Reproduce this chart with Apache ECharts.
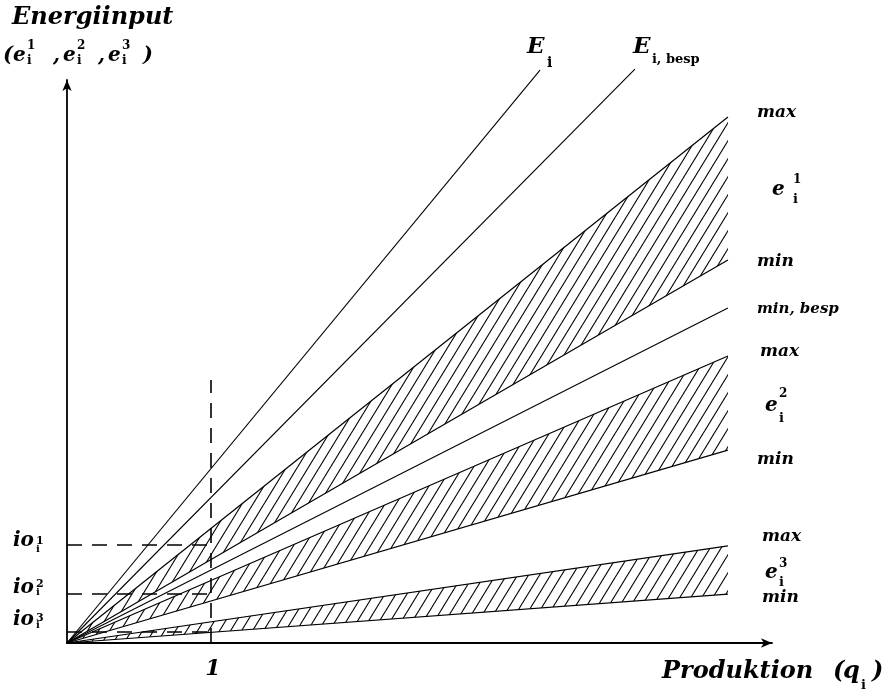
<!DOCTYPE html>
<html>
<head>
<meta charset="utf-8">
<script src="https://cdn.jsdelivr.net/npm/echarts@6/dist/echarts.min.js"></script>
<style>
  html, body { margin: 0; padding: 0; background: #fff; }
  #chart { width: 890px; height: 696px; }
</style>
</head>
<body>
<div id="chart"></div>
<script>
// Energy input against production: every curve is a ray from the origin.
// Total requirement rays (end point of each drawn ray)
const rayNames = ['E_i', 'E_i,besp'];
const rayEndX = [3.285, 3.944];
const rayEndY = [3.979, 3.986];

// Input bands e_i^1, e_i^2, e_i^3 (max / min rays, ending at the same output)
const bandNames = ['1', '2', '3'];
const bandEndX = 4.59;
const bandMax = [3.653, 1.993, 0.674];
const bandMin = [2.660, 1.340, 0.340];

// "min, besp" ray
const minBespEndY = 2.326;

const unitOutput = 1;
const unitGuideTop = 1.826;
const ioLevels = [0.681, 0.340, 0.076];

// Axis extents
const xMax = 4.896;
const yMax = 3.910;

// ---------------------------------------------------------------------------
const FONT = '"DejaVu Serif", "Liberation Serif", serif';
const font = (style, size) => `${style} ${size}px ${FONT}`;

// Diagonal hatching tile
function makeHatch(w, h) {
  const c = document.createElement('canvas');
  c.width = w; c.height = h;
  const g = c.getContext('2d');
  g.strokeStyle = '#000';
  g.lineWidth = 1.1;
  for (const off of [-w, 0, w]) {
    g.beginPath();
    g.moveTo(off - w, 2 * h);
    g.lineTo(off + 2 * w, -h);
    g.stroke();
  }
  return c;
}
const hatch = { image: makeHatch(11, 18), repeat: 'repeat' };

// Text pieces: t, style, size, dx, base (baseline offset from the anchor), align
function part(t, style, size, dx, base, align) {
  return { t, style, size, dx, base, align: align || 'left' };
}
const annotations = [];
function annotate(x, y, parts) { annotations.push({ x, y, parts }); }

// Axis titles
annotate(0, yMax, [
  part('Energiinput', 'italic bold', 24, -55, -54),
  part('(', 'italic bold', 21, -64, -17),
  part('e', 'italic bold', 20, -54, -17),
  part(bandNames[0], 'bold', 12, -40, -30),
  part('i', 'bold', 12, -40, -15),
  part(',', 'italic bold', 20, -14, -17),
  part('e', 'italic bold', 20, -4, -17),
  part(bandNames[1], 'bold', 12, 10, -30),
  part('i', 'bold', 12, 10, -15),
  part(',', 'italic bold', 20, 31, -17),
  part('e', 'italic bold', 20, 41, -17),
  part(bandNames[2], 'bold', 12, 55, -30),
  part('i', 'bold', 12, 55, -15),
  part(')', 'italic bold', 21, 76, -17)
]);
annotate(xMax, 0, [
  part('Produktion', 'italic bold', 24, -110, 37),
  part('(', 'italic bold', 24, 61, 37),
  part('q', 'italic bold', 24, 71, 37),
  part('i', 'bold', 13, 89, 47),
  part(')', 'italic bold', 24, 100, 37)
]);
annotate(unitOutput, 0, [part(String(unitOutput), 'italic bold', 22, 2, 34, 'center')]);

// Ray labels
annotate(rayEndX[0], rayEndY[0], [
  part('E', 'italic bold', 23, -13, -15),
  part('i', 'bold', 14, 7, -2)
]);
annotate(rayEndX[1], rayEndY[1], [
  part('E', 'italic bold', 23, -2, -14),
  part('i, besp', 'bold', 13, 17, -5)
]);

// Band labels e_i^k and their max / min ends
const bandLabelLayout = [
  { dx: 44, base: 8.5, sdx: 65, sup: -4.5, sub: 15.5, maxDx: 29, maxBase: 2, minDx: 29, minBase: 8 },
  { dx: 37, base: 10, sdx: 51, sup: -5, sub: 20, maxDx: 32, maxBase: 1, minDx: 29, minBase: 15 },
  { dx: 37, base: 10, sdx: 51, sup: -2, sub: 17, maxDx: 34, maxBase: -3, minDx: 34, minBase: 9 }
];
bandNames.forEach((k, i) => {
  const L = bandLabelLayout[i];
  annotate(bandEndX, (bandMax[i] + bandMin[i]) / 2, [
    part('e', 'italic bold', 20, L.dx, L.base),
    part(k, 'bold', 12, L.sdx, L.sup),
    part('i', 'bold', 13, L.sdx, L.sub)
  ]);
  annotate(bandEndX, bandMax[i], [part('max', 'italic bold', 17, L.maxDx, L.maxBase)]);
  annotate(bandEndX, bandMin[i], [part('min', 'italic bold', 17, L.minDx, L.minBase)]);
});
annotate(bandEndX, minBespEndY, [part('min, besp', 'italic bold', 15, 29, 6)]);

// io_i^k labels on the energy axis
const ioLayout = [
  { base: 3, sup: 0, sub: 8 },
  { base: 1, sup: -6, sub: 2 },
  { base: -5, sup: -10, sub: -3 }
];
ioLevels.forEach((v, i) => {
  const L = ioLayout[i];
  annotate(0, v, [
    part('io', 'italic bold', 20, -54, L.base),
    part(bandNames[i], 'bold', 11, -31, L.sup),
    part('i', 'bold', 10, -31, L.sub)
  ]);
});

// ---------------------------------------------------------------------------
const black = '#000';
function ray(x, y, width) {
  return {
    type: 'line', data: [[0, 0], [x, y]], symbol: 'none', clip: false, silent: true,
    lineStyle: { color: black, width: width || 1.1 }, z: 4
  };
}
function dashed(points) {
  return {
    type: 'line', data: points, symbol: 'none', clip: false, silent: true,
    lineStyle: { color: black, width: 1.6, type: [15, 10] }, z: 3
  };
}

const series = [];
// hatched bands
series.push({
  type: 'custom', silent: true, clip: false, z: 2,
  data: bandMax.map((m, i) => [bandEndX, m, bandMin[i]]),
  renderItem(params, api) {
    const o = api.coord([0, 0]);
    const a = api.coord([api.value(0), api.value(1)]);
    const b = api.coord([api.value(0), api.value(2)]);
    return { type: 'polygon', shape: { points: [o, a, b] }, style: { fill: hatch, stroke: null } };
  }
});
rayEndX.forEach((x, i) => series.push(ray(x, rayEndY[i])));
bandMax.forEach((m, i) => { series.push(ray(bandEndX, m, 1.2)); series.push(ray(bandEndX, bandMin[i], 1.2)); });
series.push(ray(bandEndX, minBespEndY));
series.push(dashed([[unitOutput, 0], [unitOutput, unitGuideTop]]));
ioLevels.forEach(v => series.push(dashed([[0, v], [unitOutput, v]])));
series.push({
  type: 'custom', silent: true, clip: false, z: 6,
  data: annotations.map(a => [a.x, a.y]),
  renderItem(params, api) {
    const a = annotations[params.dataIndex];
    const p = api.coord([a.x, a.y]);
    return {
      type: 'group',
      children: a.parts.map(q => ({
        type: 'text',
        x: p[0] + q.dx,
        y: p[1] + q.base - 0.35 * q.size,
        style: {
          text: q.t, font: font(q.style, q.size), fill: black,
          align: q.align, verticalAlign: 'middle',
          textAlign: q.align, textVerticalAlign: 'middle'
        }
      }))
    };
  }
});

const axisCommon = {
  type: 'value', min: 0,
  axisLine: {
    show: true, onZero: false, symbol: ['none', 'arrow'], symbolSize: [7, 11],
    lineStyle: { color: black, width: 1.8 }
  },
  axisTick: { show: false }, axisLabel: { show: false }, splitLine: { show: false }
};

const chart = echarts.init(document.getElementById('chart'), null, { renderer: 'canvas' });
chart.setOption({
  animation: false,
  backgroundColor: '#fff',
  grid: { left: 67, right: 118, top: 80, bottom: 53, containLabel: false, outerBoundsMode: 'none' },
  xAxis: Object.assign({}, axisCommon, { max: xMax }),
  yAxis: Object.assign({}, axisCommon, { max: yMax }),
  series
});
</script>
</body>
</html>
